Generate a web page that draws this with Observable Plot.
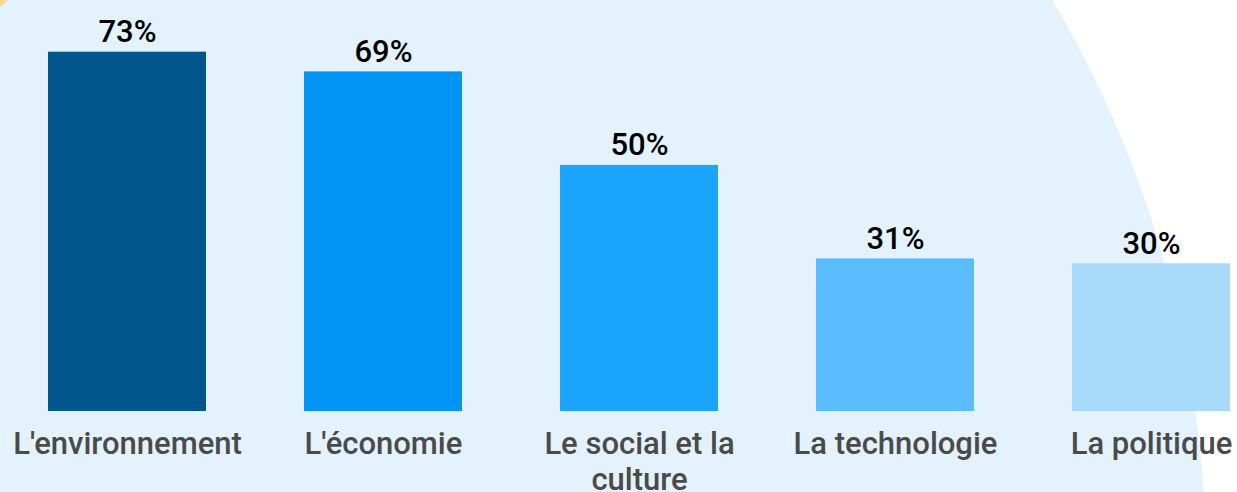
<!DOCTYPE html>
<html>
<head>
<meta charset="utf-8">
<script src="https://cdn.jsdelivr.net/npm/d3@7"></script>
<script src="https://cdn.jsdelivr.net/npm/@observablehq/plot@0.6"></script>
<style>
  html, body { margin: 0; padding: 0; background: #ffffff; }
  #chart {
    width: 1237px; height: 492px; overflow: hidden;
    background:
      radial-gradient(circle 66px at -40px -45px, #fcd991 65px, rgba(252,217,145,0) 66px),
      radial-gradient(circle 1100px at 106px 560px, #e3f2fc 1099px, #ffffff 1100px);
  }
</style>
</head>
<body>
<div id="chart"></div>
<script>
const categories = ["L'environnement", "L'économie", "Le social et la culture", "La technologie", "La politique"];
const values = [73, 69, 50, 31, 30];
const colors = ["#02568e", "#0294f4", "#1ba5fe", "#5bbcfe", "#a6d9fa"];
const wrapped = {"Le social et la culture": "Le social et la\nculture"};

const data = categories.map((c, i) => ({category: c, value: values[i], color: colors[i]}));

const chart = Plot.plot({
  width: 1237,
  height: 492,
  marginLeft: 48,
  marginRight: 7,
  marginTop: 0,
  marginBottom: 81,
  style: {background: "transparent", fontFamily: "Roboto, sans-serif", overflow: "visible"},
  x: {domain: categories, paddingInner: 0.383, paddingOuter: 0, label: null},
  y: {domain: [0, 83.5], axis: null},
  marks: [
    Plot.barY(data, {x: "category", y: "value", fill: "color"}),
    Plot.text(data, {x: "category", y: "value", text: d => d.value + "%", dy: -20, fontSize: 31, fontWeight: 500, fill: "#000000", textAnchor: "middle"}),
    Plot.axisX({
      tickSize: 0,
      tickPadding: 17,
      fontSize: 31,
      fontWeight: 500,
      fill: "#4a4a4a",
      lineHeight: 1.16,
      tickFormat: d => wrapped[d] ?? d
    })
  ]
});
document.getElementById("chart").appendChild(chart);
</script>
</body>
</html>
